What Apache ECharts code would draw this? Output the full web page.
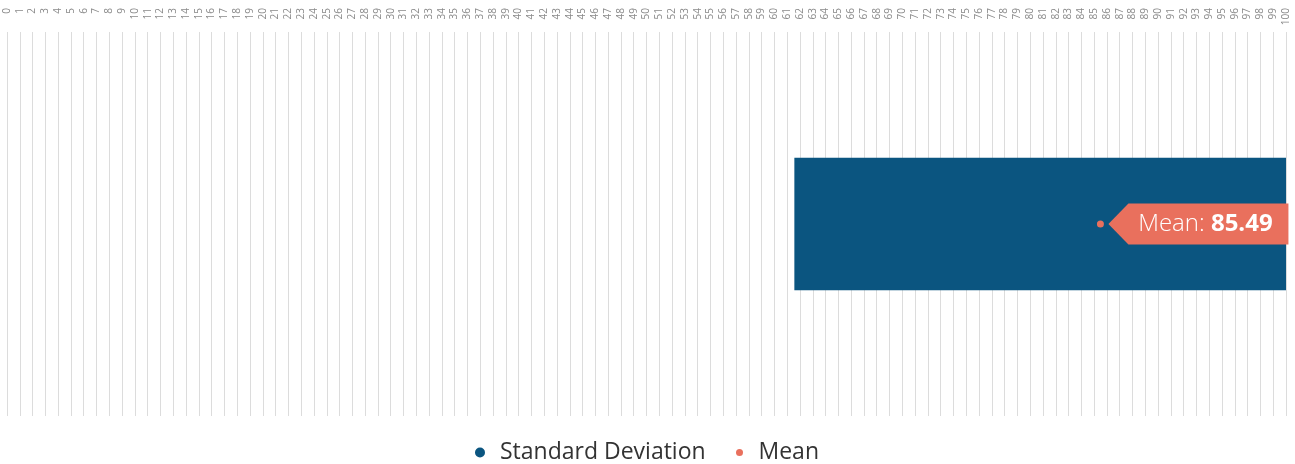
<!DOCTYPE html>
<html>
<head>
<meta charset="utf-8">
<script src="https://cdn.jsdelivr.net/npm/echarts@6/dist/echarts.min.js"></script>
<style>
  html, body { margin: 0; padding: 0; background: #ffffff; }
  #chart { width: 1295px; height: 464px; }
</style>
</head>
<body>
<div id="chart"></div>
<script>
// Scale range and the single row shown
const axisMin = 0;
const axisMax = 100;
const axisStep = 1;
const categories = [''];

// Statistics for the row
const meanValues = [85.49];
const stdDevValues = [23.93];

const SD_COLOR = '#0b5580';
const MEAN_COLOR = '#e9705d';
const FONT = '"Open Sans", "Noto Sans", sans-serif';

// Band covering mean - sd .. mean + sd for each row
const sdData = categories.map((c, i) => [meanValues[i] - stdDevValues[i], meanValues[i] + stdDevValues[i], i]);
const meanData = categories.map((c, i) => [meanValues[i], i]);

const chart = echarts.init(document.getElementById('chart'), null, { renderer: 'canvas' });

chart.setOption({
  animation: false,
  backgroundColor: '#ffffff',
  textStyle: { fontFamily: FONT },
  grid: { left: 7, right: 9, top: 32, bottom: 48, containLabel: false, outerBoundsMode: 'none' },
  xAxis: {
    type: 'value',
    position: 'top',
    min: axisMin,
    max: axisMax,
    interval: axisStep,
    axisLine: { show: false },
    axisTick: { show: false },
    axisLabel: {
      rotate: -90,
      align: 'right',
      verticalAlign: 'middle',
      margin: 24,
      fontSize: 10,
      color: '#8a8a8a',
      fontFamily: FONT
    },
    splitLine: { show: true, lineStyle: { color: '#dcdcdc', width: 1 } }
  },
  yAxis: {
    type: 'category',
    data: categories,
    show: false
  },
  legend: [
    {
      data: ['Standard Deviation'],
      left: 475,
      top: 441,
      padding: 0,
      icon: 'circle',
      itemWidth: 30,
      itemHeight: 10,
      textStyle: { fontSize: 23, color: '#333333', fontFamily: FONT }
    },
    {
      data: ['Mean'],
      left: 736,
      top: 441,
      padding: 0,
      icon: 'circle',
      itemWidth: 28,
      itemHeight: 7,
      textStyle: { fontSize: 23, color: '#333333', fontFamily: FONT }
    }
  ],
  series: [
    {
      name: 'Standard Deviation',
      type: 'custom',
      itemStyle: { color: SD_COLOR },
      encode: { x: [0, 1], y: 2 },
      data: sdData,
      renderItem: function (params, api) {
        const row = api.value(2);
        const p0 = api.coord([api.value(0), row]);
        const p1 = api.coord([api.value(1), row]);
        const h = api.size([0, 1])[1] * 0.345;
        const cs = params.coordSys;
        const shape = echarts.graphic.clipRectByRect(
          { x: p0[0], y: p0[1] - h / 2, width: p1[0] - p0[0], height: h },
          { x: cs.x, y: cs.y, width: cs.width, height: cs.height }
        );
        return shape && { type: 'rect', shape: shape, style: { fill: SD_COLOR } };
      }
    },
    {
      name: 'Mean',
      type: 'custom',
      itemStyle: { color: MEAN_COLOR },
      encode: { x: 0, y: 1 },
      data: meanData,
      z: 5,
      renderItem: function (params, api) {
        const v = api.value(0);
        const p = api.coord([v, api.value(1)]);
        const x = p[0], y = p[1];
        const half = 20.5;
        return {
          type: 'group',
          children: [
            { type: 'circle', shape: { cx: x, cy: y, r: 3.5 }, style: { fill: MEAN_COLOR } },
            {
              type: 'polygon',
              shape: { points: [[x + 8, y], [x + 28, y - half], [x + 188, y - half], [x + 188, y + half], [x + 28, y + half]] },
              style: { fill: MEAN_COLOR }
            },
            {
              type: 'text',
              x: x + 105,
              y: y,
              style: {
                text: '{l|Mean: }{b|' + v.toFixed(2) + '}',
                align: 'center',
                verticalAlign: 'middle',
                fill: '#ffffff',
                rich: {
                  l: { fontSize: 24, fontWeight: 300, fontFamily: FONT, fill: '#ffffff', color: '#ffffff' },
                  b: { fontSize: 24, fontWeight: 'bold', fontFamily: FONT, fill: '#ffffff', color: '#ffffff' }
                }
              }
            }
          ]
        };
      }
    }
  ]
});
</script>
</body>
</html>
